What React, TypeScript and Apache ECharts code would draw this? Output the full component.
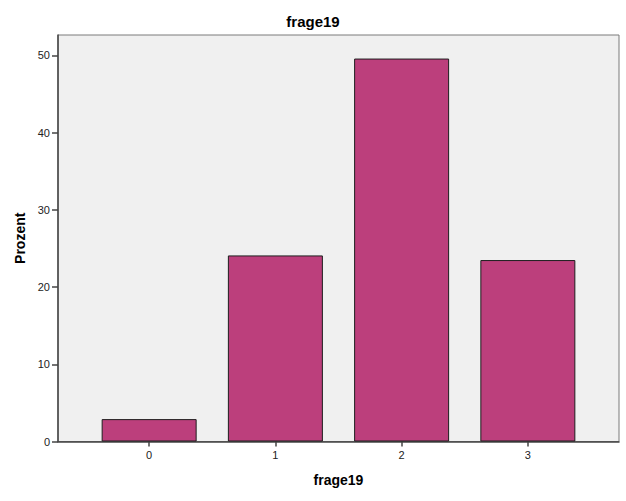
import React, { useEffect, useRef } from "react";
import * as echarts from "echarts";

const categories = ["0", "1", "2", "3"];
const percentValues = [2.9, 24.1, 49.6, 23.5];
const yTicks = [0, 10, 20, 30, 40, 50];
const chartTitle = "frage19";
const xAxisTitle = "frage19";
const yAxisTitle = "Prozent";

const FONT = "'Liberation Sans', Arial, sans-serif";

export default function App() {
  const ref = useRef<HTMLDivElement>(null);
  useEffect(() => {
    if (!ref.current) return;
    const chart = echarts.init(ref.current, undefined, { renderer: "svg" });
    const xVals = categories.map(Number);
    chart.setOption({
      animation: false,
      backgroundColor: "#ffffff",
      title: {
        text: chartTitle,
        left: "center",
        top: 9,
        textStyle: { fontFamily: FONT, fontSize: 15, fontWeight: "bold", color: "#000" },
      },
      grid: {
        left: 58,
        top: 35,
        right: 7,
        bottom: 59.5,
        show: true,
        backgroundColor: "#f0f0f0",
        borderColor: "#7a7a7a",
        borderWidth: 1,
      },
      xAxis: {
        type: "value",
        min: -0.722,
        max: 3.722,
        name: xAxisTitle,
        nameLocation: "middle",
        nameGap: 31,
        nameTextStyle: { fontFamily: FONT, fontSize: 14, fontWeight: "bold", color: "#000" },
        axisLine: { show: true, onZero: false, lineStyle: { color: "#444", width: 1.5 } },
        axisTick: { show: true, length: 5, customValues: xVals, lineStyle: { color: "#444", width: 1.5 } },
        axisLabel: {
          customValues: xVals,
          formatter: (v: number) => categories[xVals.indexOf(v)] ?? "",
          fontFamily: FONT,
          fontSize: 11,
          color: "#222",
          margin: 8,
        },
        splitLine: { show: false },
      },
      yAxis: {
        type: "value",
        min: 0,
        max: 52.65,
        name: yAxisTitle,
        nameLocation: "middle",
        nameGap: 29,
        nameTextStyle: { fontFamily: FONT, fontSize: 14, fontWeight: "bold", color: "#000" },
        axisLine: { show: true, onZero: false, lineStyle: { color: "#444", width: 1.5 } },
        axisTick: { show: true, length: 6, customValues: yTicks, lineStyle: { color: "#444", width: 1.5 } },
        axisLabel: {
          customValues: yTicks,
          fontFamily: FONT,
          fontSize: 11,
          color: "#222",
          margin: 8,
        },
        splitLine: { show: false },
      },
      series: [
        {
          type: "bar",
          data: categories.map((c, i) => [Number(c), percentValues[i]]),
          barWidth: 95,
          itemStyle: { color: "#bc3f7c", borderColor: "#1e1e1e", borderWidth: 1 },
        },
      ],
    });
    return () => chart.dispose();
  }, []);
  return (
    <div
      ref={ref}
      style={{ position: "fixed", left: 0, top: 0, width: 626, height: 501 }}
    />
  );
}
